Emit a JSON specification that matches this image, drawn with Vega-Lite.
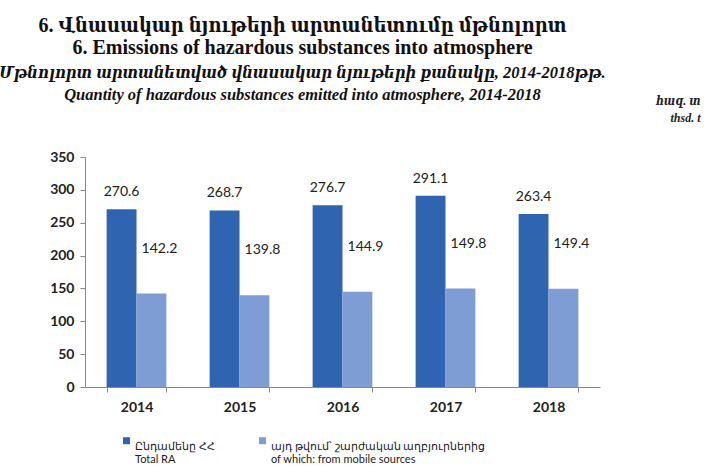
{
  "$schema": "https://vega.github.io/schema/vega-lite/v6.json",
  "width": 515,
  "height": 230,
  "autosize": "none",
  "padding": {"left": 85, "top": 157, "right": 110, "bottom": 85},
  "background": "white",
  "title": {
    "text": ["6. Վնասակար նյութերի արտանետումը մթնոլորտ", "6. Emissions of hazardous substances into atmosphere"],
    "subtitle": ["Մթնոլորտ արտանետված վնասակար նյութերի քանակը, 2014-2018թթ.", "Quantity of hazardous substances emitted into atmosphere, 2014-2018"],
    "anchor": "middle",
    "frame": "group",
    "dx": -40,
    "offset": -9,
    "font": "'Liberation Serif', 'DejaVu Serif Condensed', 'DejaVu Serif', serif",
    "fontSize": 20,
    "fontWeight": "bold",
    "lineHeight": 22,
    "color": "#111",
    "subtitleFont": "'Liberation Serif', 'DejaVu Serif Condensed', 'DejaVu Serif', serif",
    "subtitleFontSize": 16.5,
    "subtitleFontStyle": "italic",
    "subtitleFontWeight": "bold",
    "subtitleLineHeight": 22,
    "subtitleColor": "#111",
    "subtitlePadding": 7
  },
  "data": {
    "values": [
      {"year": "2014", "series": "total", "value": 270.6},
      {"year": "2014", "series": "mobile", "value": 142.2},
      {"year": "2015", "series": "total", "value": 268.7},
      {"year": "2015", "series": "mobile", "value": 139.8},
      {"year": "2016", "series": "total", "value": 276.7},
      {"year": "2016", "series": "mobile", "value": 144.9},
      {"year": "2017", "series": "total", "value": 291.1},
      {"year": "2017", "series": "mobile", "value": 149.8},
      {"year": "2018", "series": "total", "value": 263.4},
      {"year": "2018", "series": "mobile", "value": 149.4}
    ]
  },
  "encoding": {
    "x": {
      "field": "year", "type": "nominal",
      "scale": {"paddingInner": 0.42, "paddingOuter": 0.21},
      "axis": {
        "title": null, "labelAngle": 0, "labelFont": "Lato", "labelFontSize": 14, "labelFontWeight": "bold",
        "labelColor": "#222", "labelPadding": 8, "domainColor": "#888", "tickColor": "#888", "tickBand": "extent", "tickSize": 5
      }
    },
    "y": {
      "field": "value", "type": "quantitative",
      "scale": {"domain": [0, 350]},
      "axis": {
        "values": [0, 50, 100, 150, 200, 250, 300, 350],
        "grid": false,
        "labelFont": "Lato", "labelFontSize": 14, "labelFontWeight": "bold", "labelColor": "#222", "labelPadding": 6,
        "domainColor": "#888", "tickColor": "#888", "tickSize": 5,
        "title": ["հազ. տ", "thsd. t"],
        "titleAngle": 0, "titleX": 615, "titleY": -57, "titleAlign": "right", "titleBaseline": "middle",
        "titleFont": "'Liberation Serif', 'DejaVu Serif Condensed', 'DejaVu Serif', serif", "titleFontSize": 12, "titleFontStyle": "italic", "titleFontWeight": "bold",
        "titleLineHeight": 17, "titleColor": "#222"
      }
    }
  },
  "layer": [
    {
      "mark": {"type": "bar"},
      "encoding": {
        "xOffset": {"field": "series", "type": "nominal", "sort": ["total", "mobile"]},
        "color": {
          "field": "series", "type": "nominal",
          "scale": {"domain": ["total", "mobile"], "range": ["#2E64B0", "#7E9DD4"]},
          "legend": {
            "orient": "none", "legendX": 36, "legendY": 278, "direction": "horizontal",
            "title": null, "symbolType": "square", "symbolSize": 49, "symbolStrokeWidth": 0,
            "labelFont": "Lato", "labelFontSize": 11, "labelColor": "#222", "labelOffset": 3,
            "labelBaseline": "top", "columnPadding": 42, "labelLimit": 300,
            "labelExpr": "datum.value == 'total' ? ['Ընդամենը ՀՀ', 'Total RA'] : ['այդ թվում՝ շարժական աղբյուրներից', 'of which: from mobile sources']"
          }
        }
      }
    },
    {
      "transform": [{"filter": "datum.series == 'total'"}],
      "mark": {"type": "text", "font": "Lato", "fontSize": 14, "color": "#222", "dy": -17, "baseline": "middle"},
      "encoding": {
        "xOffset": {"field": "series", "type": "nominal", "sort": ["total", "mobile"]},
        "text": {"field": "value", "type": "quantitative", "format": ".1f"}
      }
    },
    {
      "transform": [{"filter": "datum.series == 'mobile'"}],
      "mark": {"type": "text", "font": "Lato", "fontSize": 14, "color": "#222", "dy": -45, "dx": 8, "baseline": "middle"},
      "encoding": {
        "xOffset": {"field": "series", "type": "nominal", "sort": ["total", "mobile"]},
        "text": {"field": "value", "type": "quantitative", "format": ".1f"}
      }
    }
  ],
  "config": {"view": {"stroke": null}}
}
